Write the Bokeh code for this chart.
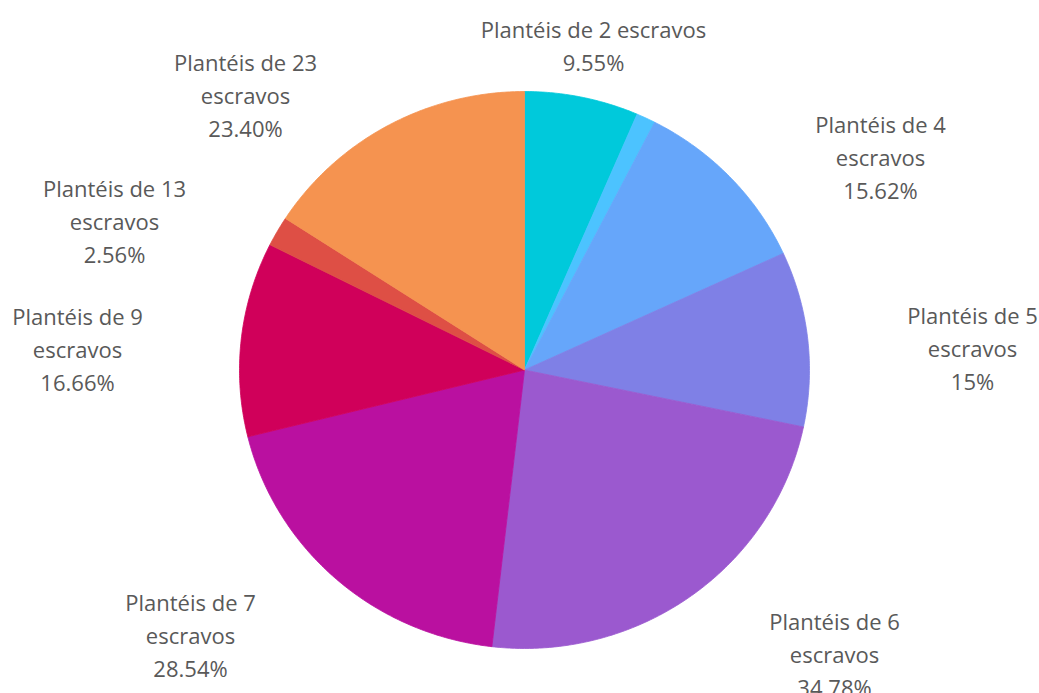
import numpy as np
from bokeh.plotting import figure
from bokeh.models import Range1d, ColumnDataSource
from bokeh.embed import file_html
from bokeh.resources import INLINE
from bokeh.core.properties import value

# ---- data ----
categories = ["Plantéis de 2 escravos", "—", "Plantéis de 4 escravos",
              "Plantéis de 5 escravos", "Plantéis de 6 escravos",
              "Plantéis de 7 escravos", "Plantéis de 9 escravos",
              "Plantéis de 13 escravos", "Plantéis de 23 escravos"]
values = [9.55, 1.6, 15.62, 15.0, 34.78, 28.54, 16.66, 2.56, 23.40]
pct_labels = ["9.55%", "", "15.62%", "15%", "34.78%", "28.54%", "16.66%", "2.56%", "23.40%"]
label_lines = [
    ["Plantéis de 2 escravos"],
    [],
    ["Plantéis de 4", "escravos"],
    ["Plantéis de 5", "escravos"],
    ["Plantéis de 6", "escravos"],
    ["Plantéis de 7", "escravos"],
    ["Plantéis de 9", "escravos"],
    ["Plantéis de 13", "escravos"],
    ["Plantéis de 23", "escravos"],
]

# ---- style / layout ----
colors = ["#00C9DB", "#4CC3FF", "#66A6FA", "#7F80E6", "#9B59CF",
          "#BA10A0", "#D0005A", "#DE4F45", "#F59350"]
label_pos = [(593, 44.5), None, (880, 156), (972, 347.5), (834, 653),
             (190, 634.5), (77, 348), (114, 220), (245, 94.5)]
cx, cy, rx, ry = 524, 369.5, 285, 278.5
line_h = 33
W, H = 1039, 693

p = figure(width=W, height=H, output_backend="svg", toolbar_location=None,
           x_range=Range1d(0, W), y_range=Range1d(H, 0),
           x_axis_type=None, y_axis_type=None, min_border=0)
p.outline_line_color = None
p.grid.visible = False
p.background_fill_color = "white"
p.border_fill_color = "white"

vals = np.array(values, dtype=float)
ends = np.cumsum(vals) / vals.sum() * 2 * np.pi
starts = np.concatenate([[0.0], ends[:-1]])

xs, ys = [], []
for a0, a1 in zip(starts, ends):
    n = max(4, int(np.degrees(a1 - a0) * 2))
    t = np.linspace(a0, a1, n)
    xs.append([cx] + list(cx + rx * np.sin(t)))
    ys.append([cy] + list(cy - ry * np.cos(t)))

src = ColumnDataSource(dict(xs=xs, ys=ys, color=colors, cat=categories))
p.patches("xs", "ys", source=src, fill_color="color", line_color="color", line_width=0.8)

tx, ty, tt = [], [], []
for lines, pct, pos in zip(label_lines, pct_labels, label_pos):
    if pos is None or not pct:
        continue
    all_lines = lines + [pct]
    n = len(all_lines)
    for i, s in enumerate(all_lines):
        tx.append(pos[0])
        ty.append(pos[1] + (i - (n - 1) / 2) * line_h)
        tt.append(s)

p.text(x=tx, y=ty, text=tt, text_align="center", text_baseline="middle",
       text_font=value("Open Sans"), text_font_size="22px", text_color="#595959")

open("out.html", "w").write(file_html(p, INLINE))
